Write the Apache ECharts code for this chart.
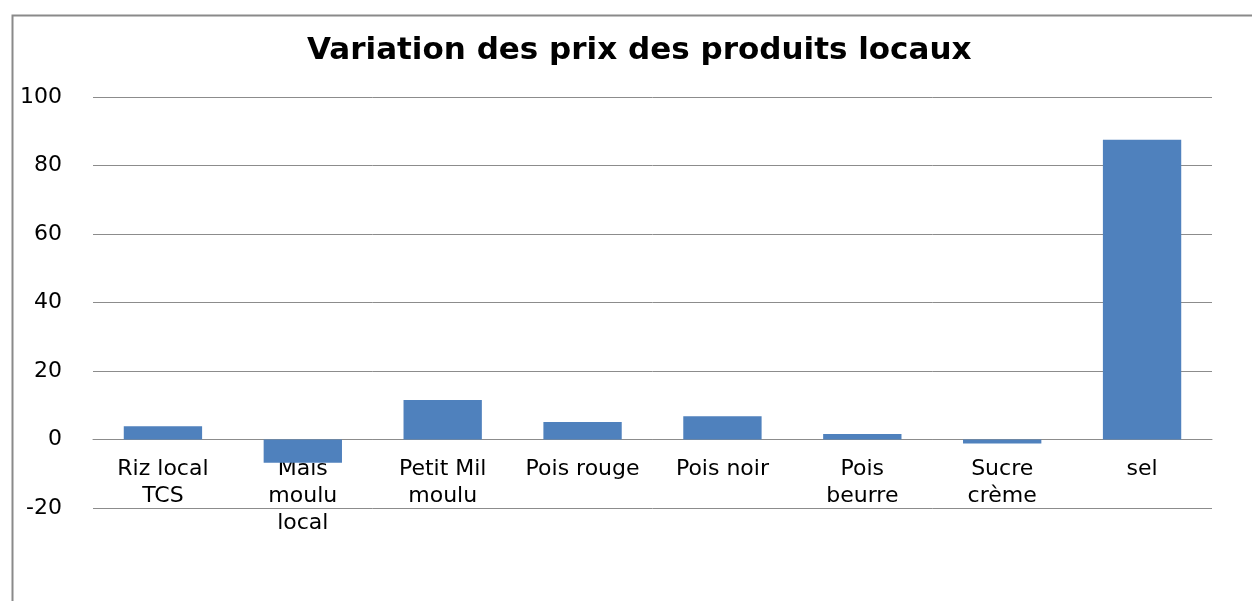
<!DOCTYPE html>
<html>
<head>
<meta charset="utf-8">
<script src="https://cdn.jsdelivr.net/npm/echarts@6/dist/echarts.min.js"></script>
<style>html,body{margin:0;padding:0;background:#fff}#c{width:1252px;height:601px}</style>
</head>
<body>
<div id="c"></div>
<script>
const titleText = 'Variation des prix des produits locaux';
const categories = ['Riz local\nTCS', 'Maïs\nmoulu\nlocal', 'Petit Mil\nmoulu', 'Pois rouge', 'Pois noir', 'Pois\nbeurre', 'Sucre\ncrème', 'sel'];
const values = [3.9, -6.8, 11.5, 5.1, 6.8, 1.6, -1.2, 87.5];
const yMin = -20, yMax = 100, yStep = 20;

const gridTop = 97, gridBottom = 93;
const plotH = 601 - gridTop - gridBottom;
const zeroOffset = -plotH * (0 - yMin) / (yMax - yMin);

const chart = echarts.init(document.getElementById('c'), null, {renderer: 'canvas'});
chart.setOption({
  animation: false,
  backgroundColor: '#fff',
  graphic: [{
    type: 'rect', left: 10, top: 13, shape: {width: 1300, height: 700},
    style: {fill: 'none', stroke: '#8a8a8a', lineWidth: 2}, silent: true
  }],
  title: {
    text: titleText, left: 302, top: 30,
    textStyle: {fontFamily: 'DejaVu Sans', fontWeight: 'bold', fontSize: 31, color: '#000'}
  },
  grid: {left: 93, right: 40, top: gridTop, bottom: gridBottom, containLabel: false},
  xAxis: {
    type: 'category', data: categories, offset: zeroOffset,
    axisLine: {onZero: false, lineStyle: {color: '#8c8c8c', width: 1}},
    axisTick: {show: false},
    axisLabel: {interval: 0, margin: 16, fontFamily: 'DejaVu Sans', fontSize: 22, lineHeight: 27, color: '#000'}
  },
  yAxis: {
    type: 'value', min: yMin, max: yMax, interval: yStep,
    axisLine: {show: false}, axisTick: {show: false},
    splitLine: {lineStyle: {color: '#8c8c8c', width: 1}},
    axisLabel: {margin: 31, fontFamily: 'DejaVu Sans', fontSize: 22, color: '#000'}
  },
  series: [{
    type: 'bar', data: values, barWidth: '56%',
    itemStyle: {color: '#4F81BD'}
  }]
});
</script>
</body>
</html>
